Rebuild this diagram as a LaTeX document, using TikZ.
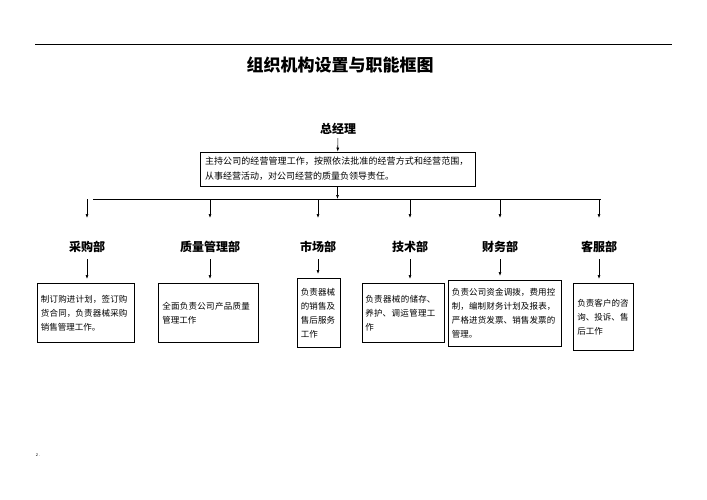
\documentclass[tikz,border=0pt]{standalone}
\usepackage{fontspec}
\setmainfont{Noto Sans CJK SC}
\XeTeXlinebreaklocale "zh"
\XeTeXlinebreakskip=0pt plus 1pt
\usetikzlibrary{arrows.meta}
\begin{document}
\begin{tikzpicture}[x=1pt,y=-1pt,
  box/.style={draw,line width=0.8pt,anchor=north west,align=left,inner sep=3pt,font=\fontsize{8.5}{14}\selectfont},
  dept/.style={font=\bfseries\fontsize{12}{14}\selectfont},
  arr/.style={-{Latex[length=4pt,width=3pt]},line width=0.6pt}]
\useasboundingbox (0,0) rectangle (707,500);
\draw[line width=0.6pt] (35,44) -- (672,44);
\node[font=\bfseries\fontsize{17}{20}\selectfont] (title) at (340,65) {组织机构设置与职能框图};
\node[dept] (gm) at (338,129) {总经理};
\node[draw,line width=0.8pt,minimum width=275pt,minimum height=34pt,align=left,text width=265pt,font=\fontsize{9}{15}\selectfont] (gmb) at (337.5,169) {主持公司的经营管理工作，按照依法批准的经营方式和经营范围，从事经营活动，对公司经营的质量负领导责任。};
\draw[arr] (gm) -- (gmb);
\coordinate (j) at (337.5,199);
\draw[arr] (gmb) -- (j);
\draw[line width=0.6pt] (93,199) -- (601,199);
\foreach \n/\x/\t/\bx/\by/\bw/\bh/\tw/\txt in {
 a/87/采购部/37/283/97/59/90/制订购进计划，签订购货合同，负责器械采购销售管理工作。,
 b/210/质量管理部/158/283/100/59/92/全面负责公司产品质量管理工作,
 c/318/市场部/297/278/43/69/36/负责器械的销售及售后服务工作,
 d/410/技术部/362/283/82/59/76/负责器械的储存、养护、调运管理工作,
 e/500/财务部/448/280/113/66/106/负责公司资金调拨，费用控制，编制财务计划及报表，严格进货发票、销售发票的管理。,
 f/599/客服部/573/283/60/67/52/负责客户的咨询、投诉、售后工作}{
 \node[dept] (\n) at (\x,247) {\t};
 \coordinate (t\n) at (\x,199);
 \coordinate (u\n) at (\x,218);
 \draw[arr] (t\n) -- (u\n);
 \node[box,minimum width=\bw pt,minimum height=\bh pt,text width=\tw pt] (b\n) at (\bx,\by) {\txt};
 \draw[arr] (\n.south) ++(0,3) coordinate (s\n) (s\n) -- (\x,\by-4);
}
\node[font=\fontsize{4}{5}\selectfont] (pg) at (38,455) {2 .};
\end{tikzpicture}
\end{document}
